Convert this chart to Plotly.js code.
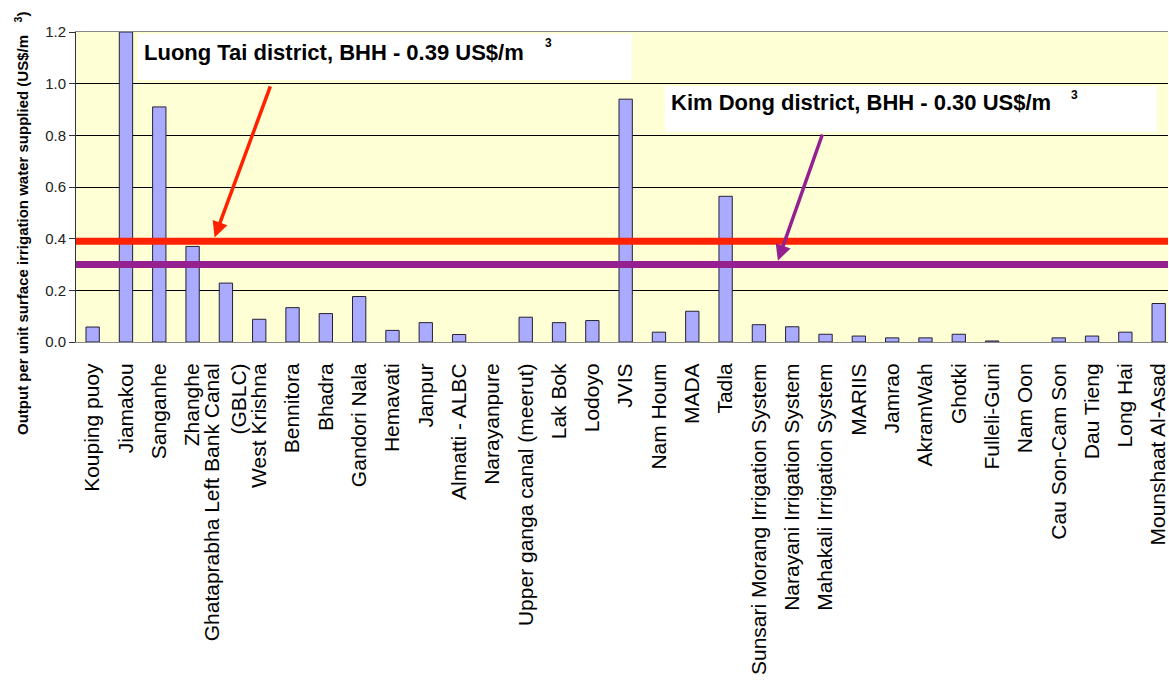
<!DOCTYPE html>
<html>
<head>
<meta charset="utf-8">
<script src="https://cdn.plot.ly/plotly-3.0.1.min.js"></script>
<style>
  html, body { margin: 0; padding: 0; background: #ffffff; }
  #chart { width: 1169px; height: 688px; }
</style>
</head>
<body>
<div id="chart"></div>
<script>
// Irrigation schemes compared
const schemes = [
  'Kouping puoy', 'Jiamakou', 'Sanganhe', 'Zhanghe',
  'Ghataprabha Left Bank Canal<br>(GBLC)', 'West Krishna', 'Bennitora', 'Bhadra',
  'Gandori Nala', 'Hemavati', 'Janpur', 'Almatti - ALBC', 'Narayanpure',
  'Upper ganga canal (meerut)', 'Lak Bok', 'Lodoyo', 'JVIS', 'Nam Houm', 'MADA',
  'Tadla', 'Sunsari Morang Irrigation System', 'Narayani Irrigation System',
  'Mahakali Irrigation System', 'MARIIS', 'Jamrao', 'AkramWah', 'Ghotki',
  'Fulleli-Guni', 'Nam Oon', 'Cau Son-Cam Son', 'Dau Tieng', 'Long Hai',
  'Mounshaat Al-Asad'
];

// Output per unit surface irrigation water supplied (US$/m3); null = no data
const outputPerWater = [
  0.058, 1.2, 0.91, 0.37,
  0.228, 0.088, 0.133, 0.110,
  0.176, 0.045, 0.075, 0.029, null,
  0.096, 0.075, 0.083, 0.94, 0.038, 0.119,
  0.564, 0.067, 0.059,
  0.030, 0.023, 0.016, 0.016, 0.030,
  0.004, null, 0.016, 0.023, 0.038,
  0.149
];

// Benchmark districts drawn as horizontal reference lines
const districtNames = ['Luong Tai district, BHH', 'Kim Dong district, BHH'];
const districtValues = [0.39, 0.30];

const yTicks = [0, 0.2, 0.4, 0.6, 0.8, 1.0, 1.2];

// ---- layout geometry (pixels) ----
const W = 1169, H = 688;
const M = { l: 76, r: 1, t: 32, b: 346 };
const plotW = W - M.l - M.r, plotH = H - M.t - M.b;
const px = x => (x - M.l) / plotW;          // pixel x -> paper
const py = y => (H - M.b - y) / plotH;      // pixel y -> paper

const FONT = '"Liberation Sans", Arial, sans-serif';
const lineColors = ['#ff2200', '#952090'];
// label box, text and superscript placement for each district
const boxes = [
  { x0: 138, x1: 632, y0: 34, y1: 80, tx: 142, ty: 52, sx: 548, sy: 43,
    arrowFrom: [5.35, 0.995], arrowTipX: 3.66 },
  { x0: 665, x1: 1157, y0: 86, y1: 132, tx: 669, ty: 103, sx: 1074, sy: 95,
    arrowFrom: [21.92, 0.809], arrowTipX: 20.57 }
];

const bars = {
  type: 'bar',
  x: schemes,
  y: outputPerWater,
  width: 0.4,
  marker: { color: '#aaaaff', line: { color: '#222233', width: 1 } },
  hoverinfo: 'x+y'
};

const shapes = [];
const annotations = [];

districtValues.forEach((v, i) => {
  const b = boxes[i];
  // reference line across the plot
  shapes.push({
    type: 'line', xref: 'paper', yref: 'y', x0: 0, x1: 1, y0: v, y1: v,
    line: { color: lineColors[i], width: 7 }, layer: 'above'
  });
  // white label box
  shapes.push({
    type: 'rect', xref: 'paper', yref: 'paper',
    x0: px(b.x0), x1: px(b.x1), y0: py(b.y1), y1: py(b.y0),
    fillcolor: '#ffffff', line: { width: 0 }, layer: 'above'
  });
  annotations.push({
    xref: 'paper', yref: 'paper', x: px(b.tx), y: py(b.ty),
    xanchor: 'left', yanchor: 'middle', showarrow: false,
    text: districtNames[i] + ' - ' + v.toFixed(2) + ' US$/m',
    font: { family: FONT, size: 22, color: '#000000', weight: 'bold' }
  });
  annotations.push({
    xref: 'paper', yref: 'paper', x: px(b.sx), y: py(b.sy),
    xanchor: 'center', yanchor: 'middle', showarrow: false,
    text: '3',
    font: { family: FONT, size: 12, color: '#000000', weight: 'bold' }
  });
  // arrow pointing at the reference line
  annotations.push({
    xref: 'x', yref: 'y', x: b.arrowTipX, y: v + 0.015,
    axref: 'x', ayref: 'y', ax: b.arrowFrom[0], ay: b.arrowFrom[1],
    text: '', showarrow: true, arrowhead: 2, arrowsize: 0.9,
    arrowwidth: 3.5, arrowcolor: lineColors[i], standoff: 0, startstandoff: 0
  });
});

// y-axis title
annotations.push({
  xref: 'paper', yref: 'paper', x: px(21), y: py(224),
  xanchor: 'center', yanchor: 'middle', showarrow: false, textangle: -90,
  text: 'Output per unit surface irrigation water supplied (US$/m&nbsp;&nbsp;&nbsp;<sup>3</sup>)',
  font: { family: FONT, size: 15, color: '#000000', weight: 'bold' }
});

const layout = {
  width: W, height: H,
  margin: M,
  paper_bgcolor: '#ffffff',
  plot_bgcolor: '#ffffd6',
  showlegend: false,
  bargap: 0.6,
  font: { family: FONT, color: '#000000' },
  xaxis: {
    type: 'category',
    range: [-0.5, 32.28],
    tickangle: -90,
    tickfont: { family: FONT, size: 21, color: '#000000' },
    showline: true, linecolor: '#888888', linewidth: 1, mirror: true,
    showgrid: false, ticks: '', zeroline: false,
    ticklabelstandoff: 12
  },
  yaxis: {
    range: [0, 1.2],
    tickvals: yTicks,
    ticktext: yTicks.map(t => t.toFixed(1)),
    tickfont: { family: FONT, size: 15, color: '#222222' },
    ticks: 'outside', ticklen: 6, tickcolor: '#333333', tickwidth: 1,
    showline: true, linecolor: '#333333', linewidth: 1,
    showgrid: true, gridcolor: '#000000', gridwidth: 1,
    zeroline: false
  },
  shapes: shapes,
  annotations: annotations
};

Plotly.newPlot('chart', [bars], layout, { staticPlot: true, displayModeBar: false });
</script>
</body>
</html>
